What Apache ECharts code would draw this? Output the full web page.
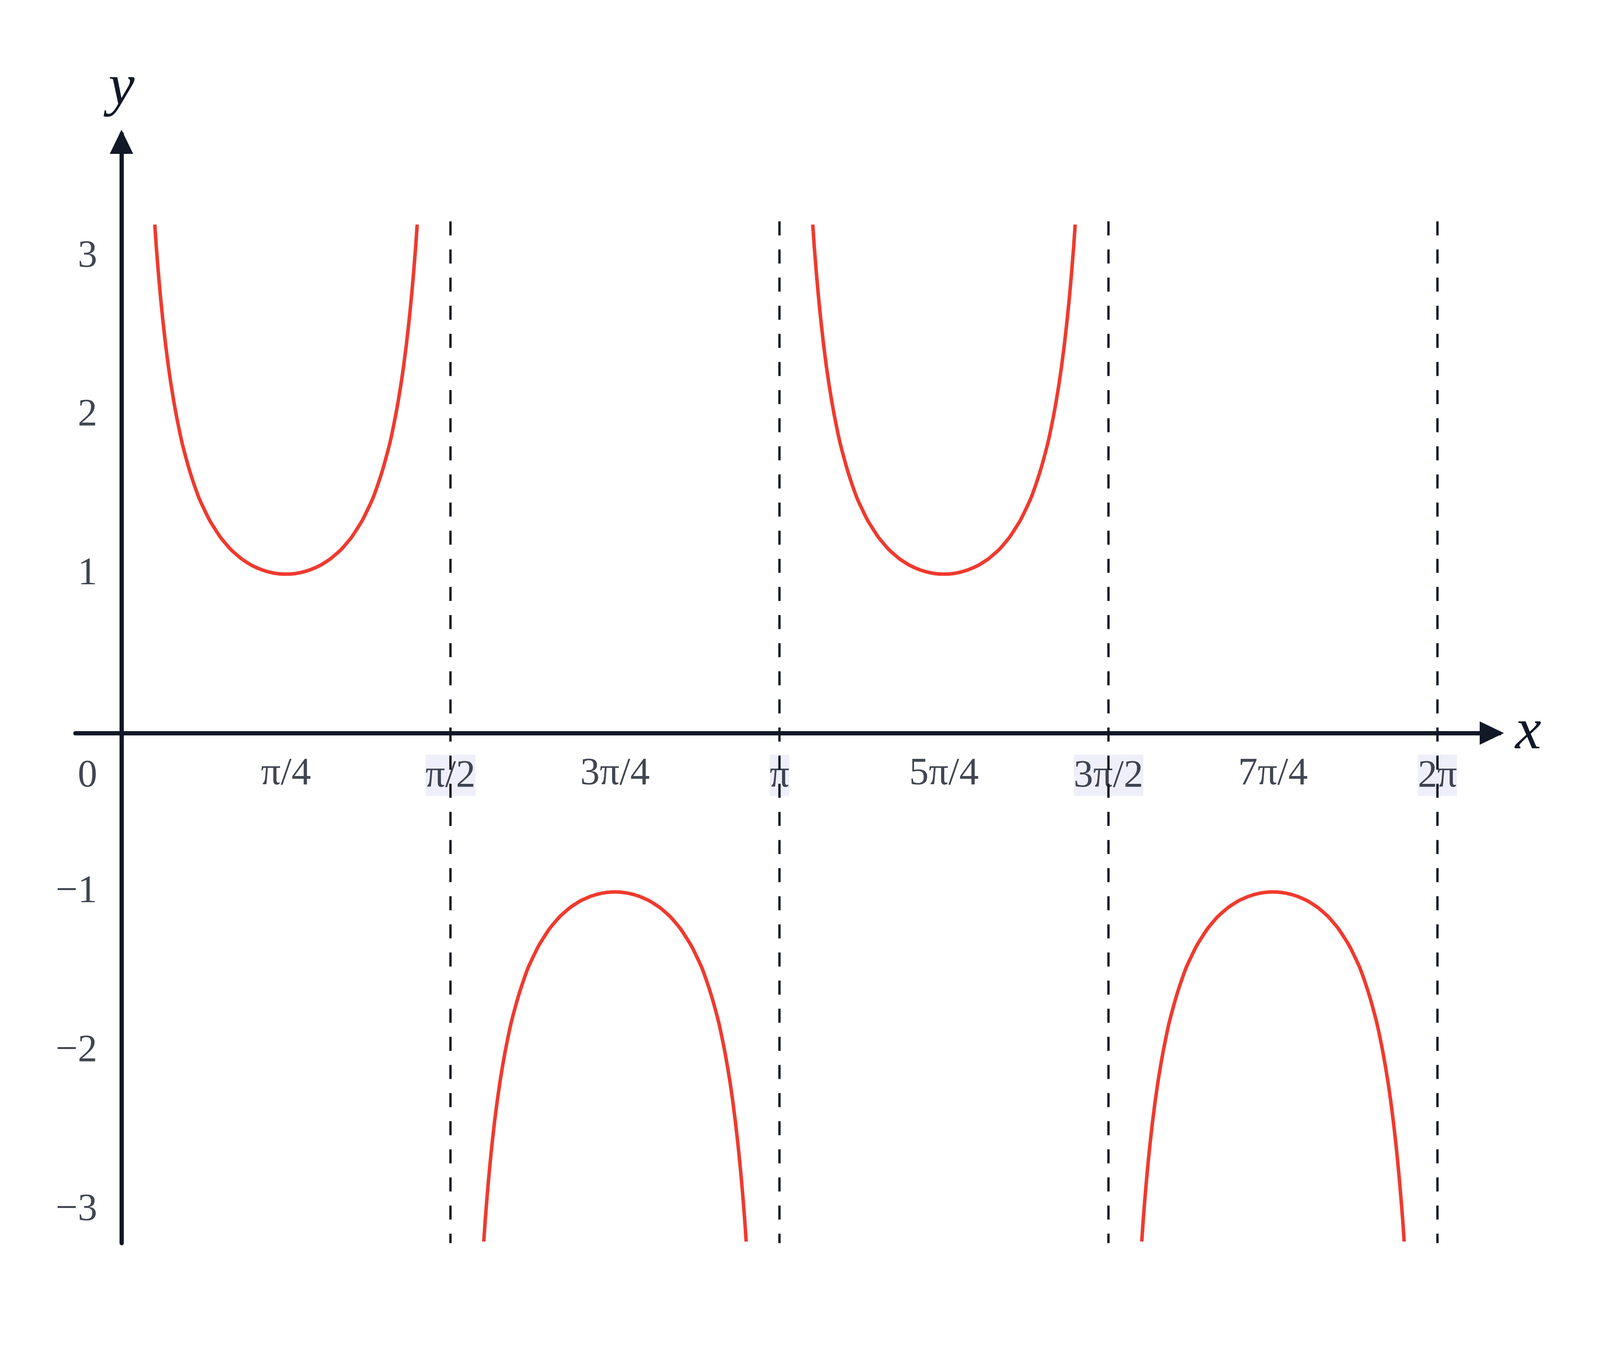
<!DOCTYPE html>
<html>
<head>
<meta charset="utf-8">
<script src="https://cdn.jsdelivr.net/npm/echarts@6/dist/echarts.min.js"></script>
<style>html,body{margin:0;background:#fff;overflow:hidden}#main{width:100vw;height:100vh}</style>
</head>
<body>
<div id="main"></div>
<script>
    var PI = Math.PI;
    // first branch of y = csc(2x) (x in radians)
    var branchX = [0.159, 0.175, 0.2, 0.225, 0.25, 0.275, 0.3, 0.35, 0.4, 0.45, 0.5, 0.55, 0.6, 0.65, 0.7, 0.74, 0.785,
        0.831, 0.871, 0.921, 0.971, 1.021, 1.071, 1.121, 1.171, 1.221, 1.271, 1.296, 1.321, 1.346, 1.371, 1.396, 1.412];
    var branchY = [3.20, 2.916, 2.568, 2.299, 2.086, 1.913, 1.771, 1.552, 1.394, 1.277, 1.188, 1.122, 1.073, 1.038, 1.015, 1.004, 1.000,
        1.004, 1.015, 1.038, 1.073, 1.122, 1.188, 1.277, 1.394, 1.552, 1.771, 1.913, 2.086, 2.299, 2.568, 2.916, 3.20];
    // the four branches: shift along x and sign
    var branchShift = [0, PI / 2, PI, 3 * PI / 2];
    var branchSign = [1, -1, 1, -1];
    // dashed asymptotes
    var asymptotes = [PI / 2, PI, 3 * PI / 2, 2 * PI];
    var asymTop = 3.22, asymBottom = -3.21;
    // tick labels
    var xTicks = [PI / 4, PI / 2, 3 * PI / 4, PI, 5 * PI / 4, 3 * PI / 2, 7 * PI / 4, 2 * PI];
    var xTickLabels = ['π/4', 'π/2', '3π/4', 'π', '5π/4', '3π/2', '7π/4', '2π'];
    var xTickMarked = [false, true, false, true, false, true, false, true];
    var yTicks = [-3, -2, -1, 1, 2, 3];
    var yTickLabels = ['−3', '−2', '−1', '1', '2', '3'];

    var font = 'Liberation Serif';
    var ink = '#111827';
    var series = [];
    for (var b = 0; b < branchShift.length; b++) {
        var pts = [];
        for (var i = 0; i < branchX.length; i++) {
            pts.push([branchX[i] + branchShift[b], branchSign[b] * branchY[i]]);
        }
        series.push({
            type: 'line', data: pts, smooth: 0.5, showSymbol: false, silent: true,
            lineStyle: {color: '#f03a2e', width: 9}
        });
    }
    asymptotes.forEach(function (a) {
        series.push({
            type: 'line', data: [[a, asymTop], [a, asymBottom]], showSymbol: false, silent: true,
            lineStyle: {color: ink, width: 6, type: [36, 36]}
        });
    });
    // x tick labels below the zero line
    series.push({
        type: 'scatter', symbolSize: 0, silent: true,
        data: xTicks.map(function (v, i) {
            return {
                value: [v, 0],
                label: {formatter: xTickMarked[i] ? '{h|' + xTickLabels[i] + '}' : xTickLabels[i]}
            };
        }),
        label: {
            show: true, position: 'bottom', distance: 55, color: ink, fontFamily: font, fontSize: 100,
            rich: {h: {backgroundColor: '#ebebfa', fontFamily: font, fontSize: 100, color: ink, padding: [6, 0, 0, 0]}}
        }
    });
    // y tick labels left of the y axis, plus the origin "0"
    series.push({
        type: 'scatter', symbolSize: 0, silent: true,
        data: yTicks.map(function (v, i) {
            return {value: [0, v], label: {formatter: yTickLabels[i]}};
        }).concat([{value: [0, 0], label: {formatter: '0', offset: [0, 110]}}]),
        label: {show: true, position: 'left', distance: 62, color: ink, fontFamily: font, fontSize: 100}
    });

    var chart = echarts.init(document.getElementById('main'));
    chart.setOption({
        animation: false,
        grid: {left: 193, right: 257, top: 343, bottom: 289},
        xAxis: {
            type: 'value', min: -0.22, max: 6.58,
            name: 'x', nameLocation: 'end', nameGap: 40,
            nameTextStyle: {fontFamily: font, fontStyle: 'italic', fontSize: 150, color: ink, verticalAlign: 'middle'},
            axisLine: {onZero: true, symbol: ['none', 'triangle'], symbolSize: [60, 62], symbolOffset: [0, -20], lineStyle: {color: ink, width: 11}},
            axisTick: {show: false},
            axisLabel: {show: false},
            splitLine: {show: false}
        },
        yAxis: {
            type: 'value', min: -3.21, max: 3.77,
            name: 'y', nameLocation: 'end', nameGap: 40,
            nameTextStyle: {fontFamily: font, fontStyle: 'italic', fontSize: 150, color: ink},
            axisLine: {onZero: true, symbol: ['none', 'triangle'], symbolSize: [60, 62], symbolOffset: [0, -20], lineStyle: {color: ink, width: 11}},
            axisTick: {show: false},
            axisLabel: {show: false},
            splitLine: {show: false}
        },
        series: series
    });
</script>
</body>
</html>
